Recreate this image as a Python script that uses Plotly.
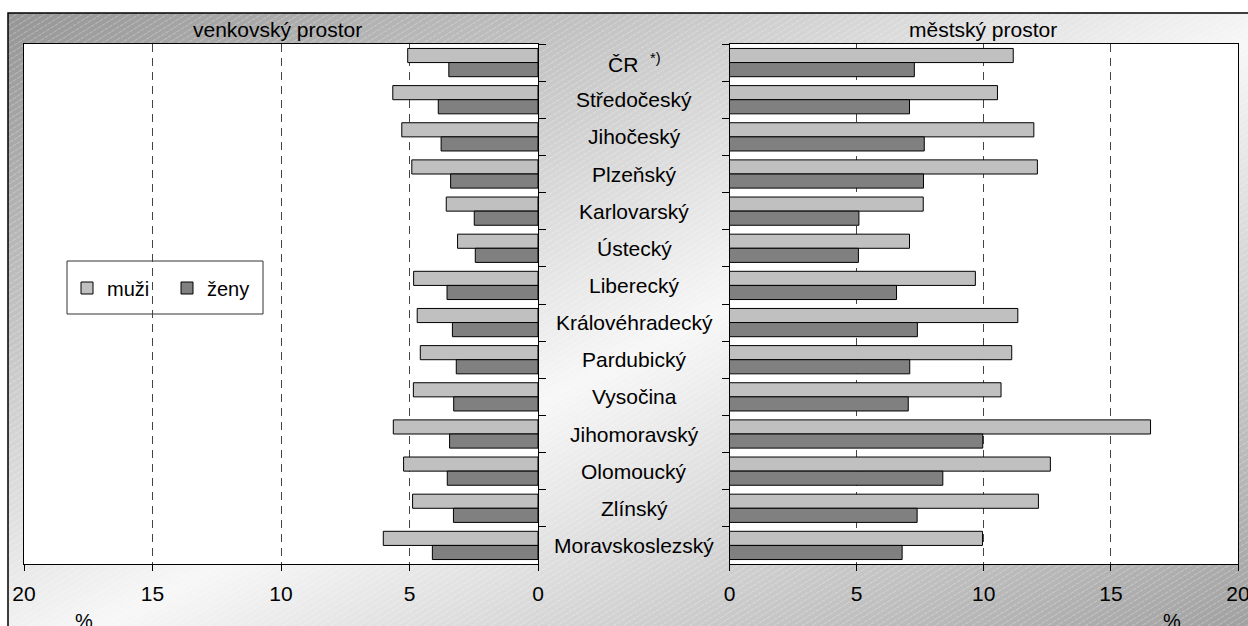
import base64
import plotly.graph_objects as go

# ---- data ----
categories = ["ČR", "Středočeský", "Jihočeský", "Plzeňský", "Karlovarský", "Ústecký",
              "Liberecký", "Královéhradecký", "Pardubický", "Vysočina", "Jihomoravský",
              "Olomoucký", "Zlínský", "Moravskoslezský"]
category_labels = ["ČR  <sup>*)</sup>"] + categories[1:]

rural_men = [5.07, 5.65, 5.30, 4.91, 3.57, 3.13, 4.84, 4.70, 4.58, 4.85, 5.63, 5.23, 4.88, 6.02]
rural_women = [3.47, 3.88, 3.77, 3.40, 2.48, 2.44, 3.54, 3.33, 3.18, 3.28, 3.44, 3.53, 3.29, 4.11]
urban_men = [11.16, 10.54, 11.97, 12.11, 7.62, 7.08, 9.67, 11.34, 11.10, 10.68, 16.56, 12.62, 12.15, 9.95]
urban_women = [7.27, 7.08, 7.66, 7.63, 5.09, 5.07, 6.57, 7.39, 7.09, 7.03, 9.96, 8.39, 7.38, 6.79]

series_names = ["muži", "ženy"]
panel_titles = ["venkovský prostor", "městský prostor"]
tick_vals = [0, 5, 10, 15, 20]

W, H = 1248, 626
FONT = "Liberation Sans, Arial, sans-serif"
FS = 21
C_MEN = "#c0c0c0"
C_WOMEN = "#808080"


def px(x):
    return x / W


def py(y):
    return 1 - y / H


fig = go.Figure()

for name, vals, col in [(series_names[0], rural_men, C_MEN),
                        (series_names[1], rural_women, C_WOMEN)]:
    fig.add_trace(go.Bar(x=vals, y=categories, orientation="h", name=name,
                         marker=dict(color=col, line=dict(color="black", width=1)),
                         xaxis="x", yaxis="y", legendgroup=name, showlegend=True))
for name, vals, col in [(series_names[0], urban_men, C_MEN),
                        (series_names[1], urban_women, C_WOMEN)]:
    fig.add_trace(go.Bar(x=vals, y=categories, orientation="h", name=name,
                         marker=dict(color=col, line=dict(color="black", width=1)),
                         xaxis="x2", yaxis="y2", legendgroup=name, showlegend=False))

xl = [px(24), px(538)]
xr = [px(729.5), px(1238)]
yd = [py(564), py(44)]

axis_common = dict(showline=True, linecolor="black", linewidth=1, mirror=True,
                   ticks="outside", ticklen=6, tickcolor="black", automargin=False,
                   tickfont=dict(family=FONT, size=FS, color="black"),
                   ticklabeloverflow="allow",
                   showgrid=True, gridcolor="#444444", gridwidth=1, griddash="8px,6px",
                   zeroline=False, tickvals=tick_vals, ticklabelstandoff=5)
yaxis_common = dict(categoryorder="array", categoryarray=categories, autorange="reversed",
                    showticklabels=False, ticks="outside", ticklen=7, tickcolor="black",
                    tickson="boundaries", showline=True, linecolor="black", mirror=True,
                    showgrid=False, automargin=False)

fig.update_layout(
    width=W, height=H, margin=dict(l=0, r=0, t=0, b=0, autoexpand=False),
    paper_bgcolor="white", plot_bgcolor="white",
    barmode="group", bargap=0.24, bargroupgap=0,
    font=dict(family=FONT, size=FS, color="black"),
    xaxis=dict(domain=xl, range=[20, 0], anchor="y", **axis_common),
    xaxis2=dict(domain=xr, range=[0, 20], anchor="y2", **axis_common),
    yaxis=dict(domain=yd, anchor="x", side="right", **yaxis_common),
    yaxis2=dict(domain=yd, anchor="x2", side="left", **yaxis_common),
    legend=dict(orientation="h", x=px(67), y=py(288), xanchor="left", yanchor="middle",
                bgcolor="rgba(0,0,0,0)", borderwidth=0,
                entrywidth=55, font=dict(family=FONT, size=20, color="black")),
)

# background: diagonal gradient with fine hatching
bw, bh = 1300, 660
svg = f'''<svg xmlns="http://www.w3.org/2000/svg" width="{bw}" height="{bh}" viewBox="0 0 {bw} {bh}" preserveAspectRatio="none">
<defs>
<linearGradient id="g" x1="0" y1="0" x2="1" y2="1">
<stop offset="0" stop-color="#959595"/><stop offset="0.5" stop-color="#f7f7f7"/><stop offset="1" stop-color="#959595"/>
</linearGradient>
<pattern id="h" width="5" height="5" patternUnits="userSpaceOnUse" patternTransform="rotate(-32)">
<line x1="0" y1="0.5" x2="5" y2="0.5" stroke="#ffffff" stroke-width="0.8" stroke-dasharray="2,1" opacity="0.35"/>
</pattern>
</defs>
<rect width="{bw}" height="{bh}" fill="url(#g)"/>
<rect width="{bw}" height="{bh}" fill="url(#h)"/>
</svg>'''
src = "data:image/svg+xml;base64," + base64.b64encode(svg.encode("utf-8")).decode("ascii")
fig.add_layout_image(dict(source=src, xref="paper", yref="paper", x=px(8), y=py(13),
                          sizex=bw / W, sizey=bh / H, xanchor="left", yanchor="top",
                          sizing="stretch", layer="below"))

# white plot areas
for xa, ya in [("x", "y"), ("x2", "y2")]:
    fig.add_shape(type="rect", xref=f"{xa} domain", yref=f"{ya} domain", x0=0, x1=1, y0=0, y1=1,
                  fillcolor="white", line=dict(width=0), layer="below")

# legend box
fig.add_shape(type="rect", xref="paper", yref="paper", x0=px(67), x1=px(263), y0=py(314), y1=py(261),
              fillcolor="white", line=dict(color="#333333", width=1), layer="below")

# outer frame
fig.add_shape(type="rect", xref="paper", yref="paper", x0=px(8), y0=py(13), x1=1.05, y1=-0.1,
              line=dict(color="black", width=1.5), fillcolor="rgba(0,0,0,0)", layer="above")

# titles
fig.add_annotation(text=panel_titles[0], x=px(277), y=py(30), xref="paper", yref="paper",
                   showarrow=False, xanchor="center", yanchor="middle",
                   font=dict(family=FONT, size=FS, color="black"))
fig.add_annotation(text=panel_titles[1], x=px(983), y=py(30), xref="paper", yref="paper",
                   showarrow=False, xanchor="center", yanchor="middle",
                   font=dict(family=FONT, size=FS, color="black"))

# category labels in the middle
for cat, lab in zip(categories, category_labels):
    fig.add_annotation(text=lab, x=px(634), y=cat, xref="paper", yref="y",
                       showarrow=False, xanchor="center", yanchor="middle",
                       font=dict(family=FONT, size=FS, color="black"))

# % labels
for xp in [84, 1172]:
    fig.add_annotation(text="%", x=px(xp), y=py(621), xref="paper", yref="paper",
                       showarrow=False, xanchor="center", yanchor="middle",
                       font=dict(family=FONT, size=20, color="black"))

fig.write_html("out.html", config={"displayModeBar": False},
               post_script="document.body.style.margin='0';")
